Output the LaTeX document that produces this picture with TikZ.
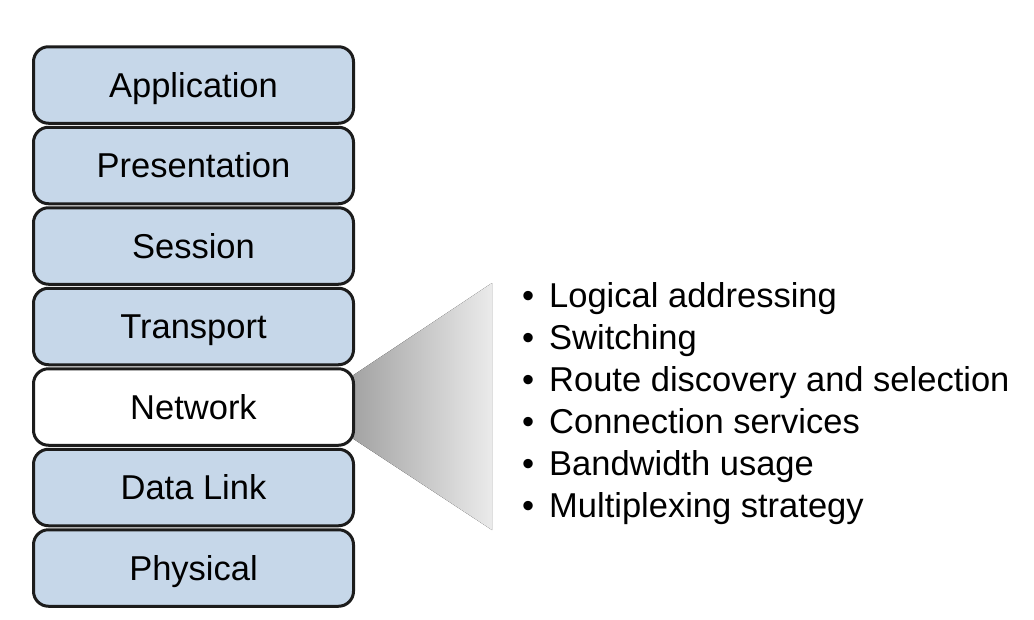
\documentclass[tikz,border=0pt]{standalone}
\usepackage{fontspec}
\setmainfont{Liberation Sans}
\usetikzlibrary{positioning,backgrounds}

\definecolor{layerblue}{RGB}{198,215,233}
\definecolor{layerline}{RGB}{28,28,28}

\tikzset{
  layer/.style={draw=layerline, line width=3pt, rounded corners=15pt,
    fill=layerblue, minimum width=320pt, minimum height=76.5pt,
    outer sep=0pt, inner sep=0pt, text height=24.7pt, text depth=0pt,
    font=\fontsize{34.5}{40}\selectfont},
  item/.style={anchor=base west, inner sep=0pt,
    font=\fontsize{34.5}{40}\selectfont},
}
\newcommand{\itm}[1]{\makebox[27pt][l]{\textbullet}#1}

\begin{document}
\begin{tikzpicture}[x=1pt,y=-1pt]
      \useasboundingbox (0,0) rectangle (1034,619);

      % OSI stack
      \node[layer] (app) at (193.5,85) {Application};
      \node[layer, below=4pt of app] (pres) {Presentation};
      \node[layer, below=4pt of pres] (sess) {Session};
      \node[layer, below=4pt of sess] (trans) {Transport};
      \node[layer, below=4pt of trans, fill=white] (net) {Network};
      \node[layer, below=4pt of net] (link) {Data Link};
      \node[layer, below=4pt of link] (phys) {Physical};

      % Fan out of the network layer
      \coordinate (fanA) at (492,283);
      \coordinate (fanB) at (492,530);
      \begin{scope}[on background layer]
        \fill[left color=black!36, right color=black!8]
          ([yshift=32pt]net.east) -- (fanA) -- (fanB) -- ([yshift=-32pt]net.east) -- cycle;
      \end{scope}

      % Network layer tasks
      \node[item] (addr) at (522,307) {\itm{Logical addressing}};
      \node[item] (swit) at (522,349) {\itm{Switching}};
      \node[item] (route) at (522,391) {\itm{Route discovery and selection}};
      \node[item] (conn) at (522,433) {\itm{Connection services}};
      \node[item] (band) at (522,475) {\itm{Bandwidth usage}};
      \node[item] (mux) at (522,517) {\itm{Multiplexing strategy}};

    \end{tikzpicture}
\end{document}
